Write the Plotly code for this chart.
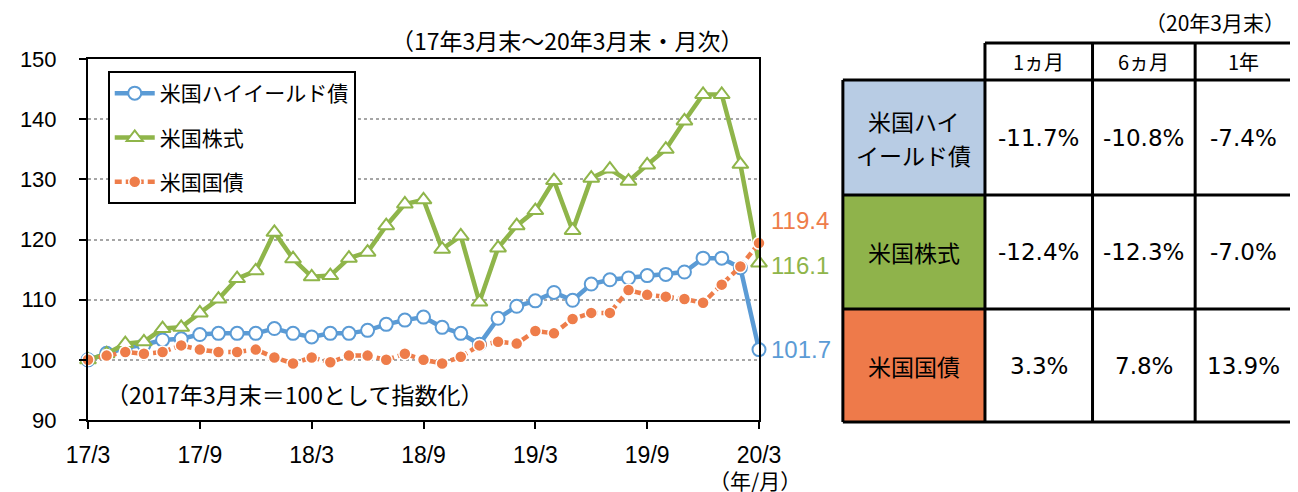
import plotly.graph_objects as go

# ---------------- data ----------------
months = list(range(37))  # 17/3 ... 20/3 monthly
tick_vals = [0, 6, 12, 18, 24, 30, 36]
tick_text = ["17/3", "17/9", "18/3", "18/9", "19/3", "19/9", "20/3"]

series_names = ["米国ハイイールド債", "米国株式", "米国国債"]

us_high_yield = [100.0, 101.1, 102.0, 102.5, 103.3, 103.5, 104.2, 104.4, 104.4, 104.4,
                 105.2, 104.4, 103.8, 104.4, 104.4, 104.9, 105.9, 106.6, 107.1, 105.4,
                 104.4, 102.6, 106.9, 108.9, 109.8, 111.2, 109.9, 112.6, 113.3, 113.6,
                 114.0, 114.2, 114.6, 116.9, 116.9, 115.3, 101.7]
us_equity = [100.0, 101.0, 102.7, 103.0, 105.2, 105.4, 107.8, 110.1, 113.5, 114.8,
             121.2, 116.8, 113.8, 114.0, 116.9, 117.9, 122.3, 125.9, 126.6, 118.4,
             120.6, 109.6, 118.6, 122.3, 124.8, 129.8, 121.5, 130.2, 131.7, 129.7,
             132.4, 135.0, 139.7, 144.1, 144.1, 132.5, 116.1]
us_treasury = [100.0, 100.7, 101.3, 101.0, 101.3, 102.4, 101.7, 101.3, 101.3, 101.7,
               100.4, 99.4, 100.4, 99.6, 100.7, 100.7, 100.0, 101.0, 100.0, 99.4,
               100.5, 102.4, 103.0, 102.7, 104.8, 104.4, 106.8, 107.8, 107.8, 111.6,
               110.8, 110.5, 110.1, 109.5, 112.5, 115.5, 119.4]

table_columns = ["1ヵ月", "6ヵ月", "1年"]
table_rows = [["米国ハイ", "イールド債"], ["米国株式"], ["米国国債"]]
table_high_yield = ["-11.7%", "-10.8%", "-7.4%"]
table_equity = ["-12.4%", "-12.3%", "-7.0%"]
table_treasury = ["3.3%", "7.8%", "13.9%"]

# ---------------- styles ----------------
BLUE = "#5B9BD5"
GREEN = "#8FB54A"
ORANGE = "#EE7D4A"
CELL_COLORS = ["#B8CCE4", "#8FB34B", "#EE7A4A"]
JP = "Noto Sans CJK JP"
NUM = "Liberation Sans"

OFF = 8  # page body margin
W, H = 1298 - OFF, 492 - OFF
L, R, T, B = 79, 759, 59, 420  # plot area in window pixels


def px(x):
    return (x - L) / (R - L)


def py(y):
    return (B - y) / (B - T)


fig = go.Figure()

fig.add_trace(go.Scatter(
    x=months, y=us_high_yield, name=series_names[0], legendgroup="a",
    mode="lines+markers", cliponaxis=False,
    line=dict(color=BLUE, width=4.5),
    marker=dict(symbol="circle", size=13, color="white", line=dict(color=BLUE, width=2)),
))
fig.add_trace(go.Scatter(
    x=months, y=us_equity, name=series_names[1], legendgroup="b",
    mode="lines+markers", cliponaxis=False,
    line=dict(color=GREEN, width=4.5),
    marker=dict(symbol="triangle-up", size=14, color="white", line=dict(color=GREEN, width=2)),
))
fig.add_trace(go.Scatter(
    x=months, y=us_treasury, name=series_names[2], legendgroup="c",
    mode="lines+markers", cliponaxis=False,
    line=dict(color=ORANGE, width=4.5, dash="7px,4px"),
    marker=dict(symbol="circle", size=12, color=ORANGE, line=dict(color="white", width=1.5)),
))

annotations = []
# end-of-series labels
end_info = [(us_treasury, ORANGE, -23), (us_equity, GREEN, 3), (us_high_yield, BLUE, 0)]
for ser, col, ys in end_info:
    annotations.append(dict(
        x=months[-1], y=ser[-1], xref="x", yref="y", text=f"{ser[-1]:.1f}",
        showarrow=False, xanchor="left", yanchor="middle", xshift=10, yshift=-ys,
        font=dict(family=NUM, size=24, color=col),
    ))

annotations += [
    dict(x=px(565), y=py(40), xref="paper", yref="paper", showarrow=False,
         text="（17年3月末～20年3月末・月次）", font=dict(family=JP, size=23, color="black"),
         xanchor="center", yanchor="middle"),
    dict(x=px(95), y=py(394), xref="paper", yref="paper", showarrow=False,
         text="（2017年3月末＝100として指数化）", font=dict(family=JP, size=23, color="black"),
         xanchor="left", yanchor="middle"),
    dict(x=px(755), y=py(480), xref="paper", yref="paper", showarrow=False,
         text="（年/月）", font=dict(family=JP, size=21, color="black"),
         xanchor="center", yanchor="middle"),
    dict(x=px(1294), y=py(22), xref="paper", yref="paper", showarrow=False,
         text="（20年3月末）", font=dict(family=JP, size=21, color="black"),
         xanchor="right", yanchor="middle"),
]

# ---------------- table (drawn with shapes + annotations) ----------------
col_x = [844, 988, 1097, 1201, 1300]
row_y = [43, 80, 195, 309, 422]
shapes = []
for i in range(3):
    shapes.append(dict(type="rect", xref="paper", yref="paper",
                       x0=px(col_x[0]), x1=px(col_x[1]), y0=py(row_y[i + 1]), y1=py(row_y[i + 2]),
                       fillcolor=CELL_COLORS[i], line=dict(width=0), layer="below"))
LW = 3
shapes.append(dict(type="line", xref="paper", yref="paper", x0=px(col_x[1]), x1=px(col_x[4]),
                   y0=py(row_y[0]), y1=py(row_y[0]), line=dict(color="black", width=LW)))
for yy in row_y[1:]:
    shapes.append(dict(type="line", xref="paper", yref="paper", x0=px(col_x[0]), x1=px(col_x[4]),
                       y0=py(yy), y1=py(yy), line=dict(color="black", width=LW)))
shapes.append(dict(type="line", xref="paper", yref="paper", x0=px(col_x[0]), x1=px(col_x[0]),
                   y0=py(row_y[1]), y1=py(row_y[4]), line=dict(color="black", width=LW)))
for xx in col_x[1:]:
    shapes.append(dict(type="line", xref="paper", yref="paper", x0=px(xx), x1=px(xx),
                       y0=py(row_y[0]), y1=py(row_y[4]), line=dict(color="black", width=LW)))

for j, h in enumerate(table_columns):
    annotations.append(dict(x=px((col_x[j + 1] + col_x[j + 2]) / 2), y=py((row_y[0] + row_y[1]) / 2),
                            xref="paper", yref="paper", showarrow=False, text=h,
                            xanchor="center", yanchor="middle",
                            font=dict(family=JP, size=20, color="black")))
table_vals = [table_high_yield, table_equity, table_treasury]
LINE_GAP = 34
for i, lines in enumerate(table_rows):
    cyp = (row_y[i + 1] + row_y[i + 2]) / 2
    n = len(lines)
    for k, ln in enumerate(lines):
        ly = cyp + (k - (n - 1) / 2) * LINE_GAP
        annotations.append(dict(x=px((col_x[0] + col_x[1]) / 2), y=py(ly), xref="paper",
                                yref="paper", showarrow=False, text=ln,
                                xanchor="center", yanchor="middle",
                                font=dict(family=JP, size=23, color="black")))
    for j, v in enumerate(table_vals[i]):
        annotations.append(dict(x=px((col_x[j + 1] + col_x[j + 2]) / 2), y=py(cyp), xref="paper",
                                yref="paper", showarrow=False, text=v,
                                xanchor="center", yanchor="middle",
                                font=dict(family="DejaVu Sans", size=23, color="black")))

fig.update_layout(
    width=W, height=H,
    margin=dict(l=L - OFF, r=1298 - R, t=T - OFF, b=492 - B, pad=0),
    paper_bgcolor="white", plot_bgcolor="white",
    showlegend=True,
    legend=dict(x=px(99), y=py(71), xanchor="left", yanchor="top",
                bordercolor="black", borderwidth=2, bgcolor="white",
                font=dict(family=JP, size=21, color="black"),
                traceorder="grouped", tracegroupgap=14, itemwidth=40),
    annotations=annotations,
    shapes=shapes,
)
fig.update_xaxes(
    range=[0, 36], tickvals=tick_vals, ticktext=tick_text,
    showgrid=False, zeroline=False,
    showline=True, linecolor="black", linewidth=2, mirror=True,
    ticks="outside", ticklen=7, tickwidth=2, tickcolor="black",
    ticklabelstandoff=6,
    tickfont=dict(family=NUM, size=23, color="black"),
)
fig.update_yaxes(
    range=[90, 150], dtick=10,
    showgrid=True, gridcolor="#A6A6A6", gridwidth=1.5, griddash="dot", zeroline=False,
    showline=True, linecolor="black", linewidth=2, mirror=True,
    ticks="outside", ticklen=7, tickwidth=2, tickcolor="black",
    ticklabelstandoff=18,
    tickfont=dict(family=NUM, size=22, color="black"),
)

fig.write_html("out.html")
